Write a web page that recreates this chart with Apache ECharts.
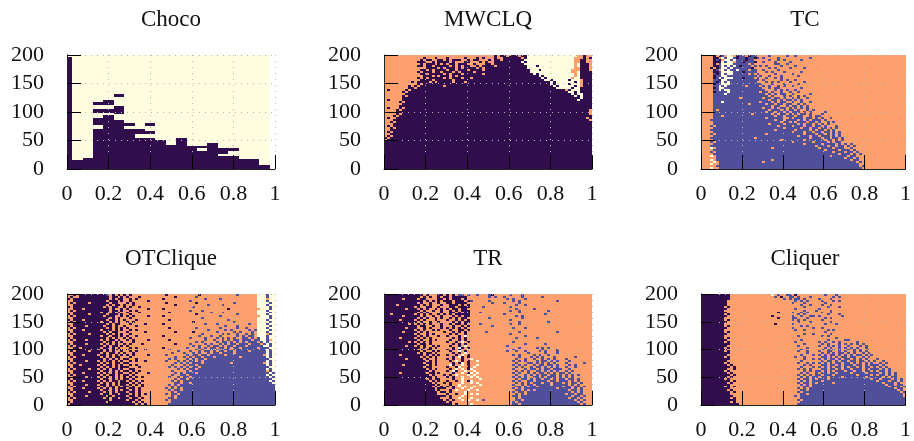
<!DOCTYPE html>
<html><head><meta charset="utf-8">
<style>html,body{margin:0;padding:0;background:#fff}#c{width:914px;height:441px}</style>
<script src="https://cdn.jsdelivr.net/npm/echarts@6/dist/echarts.min.js"></script>
</head><body><div id="c"></div>
<script>
const titles = ['Choco','MWCLQ','TC','OTClique','TR','Cliquer'];
const palette = {'#':'#320d4d','b':'#50509a','.':'#fea06e','-':'#fffde0'};
const xRange = [0,1], yRange = [0,200];

// Choco: [firstBin, lastBin, [dark y ranges]] with 40 bins of width 0.025; bin 39 is empty
const chocoBins = [
 [0,0,[[0,197]]],[1,2,[[0,15]]],[3,4,[[0,20]]],
 [5,6,[[0,71],[77,90],[98,105],[112,117]]],
 [7,8,[[0,95],[98,105],[112,121]]],
 [9,10,[[0,86],[96,111],[127,131]]],
 [11,12,[[0,71],[76,81]]],
 [13,14,[[0,55],[61,71]]],
 [15,16,[[0,55],[61,66],[76,81]]],
 [17,18,[[0,51]]],[19,20,[[0,42]]],[21,22,[[0,55]]],[23,24,[[0,41]]],
 [25,26,[[0,32],[36,40]]],[27,28,[[0,46]]],
 [29,30,[[0,22],[26,36]]],[31,32,[[0,22],[32,36]]],
 [33,36,[[0,17]]],[37,38,[[0,7]]]
];

// 70 columns, 57 rows, top row first, in groups of 10 columns.
// # dark, b blue, . orange, - cream; D, B, O, C are whole groups of one colour; missing groups are orange.
const mwclqRows = [
"O O O .......#.# #.###.##-- C -----..#..",
"O ...#...#.. .#.....#.. .#.#...#.. ######.#-- C ----...#.#",
"O ..#.##..## .#.###..#. ##...#.##. #######--- C ----..##..",
"O .###..#.## ##.#...##. ..#.#..### ######-#-- C ----..##..",
"O ..#.###.#. #.##.###.. #...##.### #######--- C ----.-###.",
"O .##.##.### ##.#.#.##. .#.####.## ########-- -#-------- ----.-###.",
"O ....####.# .###.#.### #.#.###### ########-- C ----..###.",
"O ..##.#.### #.##.###.# ###.###### #########- --#------- ---...###.",
"O .#.###.##. ###.#.#### .######### #########- C ---..-####",
"O ..##.##### .#.###.### ###.###### ########## -#-------- ----.-####",
"O ...###.#.# ##.#.##### ########## D ##-#------ ----.-####",
"O .#.#.##### .#.###.##. ########## D ###-#----- ---.--####",
"O ..####.### ###.###### D D ####--#--- --#---.###",
".........# .####.#.## ###.###.## D D ######-#-- ----#-.###",
".......... .#.####### ########## D D ######-#-- --#---.###",
"........#. #.######## .######### D D #######-#- ----#-.###",
"........## .######### D D D ########-- ---#--####",
".#.....#.# ########## D D D D #.#---####",
"......#.## ########## D D D D ##--#-####",
".......### D D D D D ###-#--###",
"......#.## D D D D D ####-#-###",
"......#### D D D D D ######-###",
".#....#### D D D D D #####-####",
".....#.### D D D D D D",
"......#### D D D D D D",
".....##### D D D D D D",
".#...#.### D D D D D D",
"....#.#### D D D D D #########.",
"....###### D D D D D #########.",
"....#.#### D D D D D #########.",
"...#.##### D D D D D D",
".#..###### D D D D D ########.#",
"...####### D D D D D #########.",
"..#.###### D D D D D D",
"...####### D D D D D D",
".#.####### D D D D D D",
"..#.###### D D D D D D",
"..######## D D D D D D",
".#.####### D D D D D D",
"..######## D D D D D D",
".#.####### D D D D D D",
"#.######## D D D D D D",
".######### D D D D D D",
"D D D D D D D","D D D D D D D","D D D D D D D","D D D D D D D","D D D D D D D",
"D D D D D D D","D D D D D D D","D D D D D D D","D D D D D D D","D D D D D D D",
"D D D D D D D","D D D D D D D","D D D D D D D","D D D D D D D"
];
const tcRows = [
"....#.#b.- -.#bb.#bb. ...b.....b ..b.......",
"....##.-b- -b#bb#bb#b .b....b... .......b..",
"....#b#.-- b-bbb#bb.. ...b..b.b. ....b.....",
"....###-b- -.bb#bbb#. .b...b.... b.........",
"....#.b--- -bbbbb.b.. .....bb..b ..........",
"....##b-b- b-b#bbb.b. b.b....b.. ..b.......",
"...#.#b--b -bbbbbb#.. ...b.b.... b....b....",
"....#b.-b- bb-bbb.bb. .b....b... ..........",
"....##b--- -bbb#bbbb. ..b.b...b. ....b.....",
"....b#b-b- -bbbbb.b.b .....b.... .b........",
"....#bb--b bbbbbbbbb. b..b...b.. ...b......",
"....#b-b-- -bbb#bbb.b ..b..b.b.. ..........",
"....bb#--b bbbbbbbbbb .b.....b.b ..b.......",
"....b#b-b- bbbbbbbbb. ..b.b.b... b....b....",
"....#bb--- bbbbbbbbbb b...b...b. ...b......",
"....bb-b-b bbbbb.bbbb .b.b..b.b. .b........",
"....#b--bb bbbbbbbbbb b..b.bb... ....b.....",
"....bb-b-- bbbbbbbbbb bb...b.b.b ..b.......",
"....#bbbb- bbbbbbbbbb .bb.b..b.. b..b......",
"....bbbb-b bbbbbbbbbb bb.b.b.bb. .b.....b..",
"....bbbbbb bbbbbbbbbb bbb.b...b. b..b.b....",
"....bbbbbb bbb.bbbbbb b.bb.bb.b. .b.b..b...",
"....bbbbbb bbbbbbbbbb bbb.bb.b.b b.b.b.....",
"....bbb-bb bbbbbbbbbb .bbb.b.bb. .b..b..b..",
"....bbbbbb bbbbbb.bbb bb.bb.bb.b b..b.b....",
"....bbbbbb bbbbbbbbbb bbbb.bb..b .bb.b.b...",
"....bbbbbb bbbbbbbbbb b.bb.b.bb. b.b.b.b...",
"....b.bbbb bbbbbbbbbb bbb.bbb.b. bb.b..b.b.",
"....bbbbbb bbbbbbbbbb bb.bb.bb.b .bbb.b.b.. ..b.......",
"....bbbbbb bbbbbbb.bb bbbb.b.bb. b.b.bb.b.. .b........",
"....bbb.bb bbbbbbbbbb bbbbb.bb.b bb.bb..b.b b.........",
"....bbbbbb bbbbbbbbbb bb.bbbbb.. b.bbb.bb.b .b..b.....",
"...bbbbbbb bbbbbbbbbb bbbbb.bb.b bbb.b.b.bb b.b.......",
"....bbbbbb bbbbbbbbbb bbbbbbb.bb .b.bbb.bb. b..b.b....",
"....bbbbbb bbbbbbbbbb bbb.bbbb.b bbb.b.bb.b .b.b......",
"...b.bbbbb bbbbbbbbbb bbbbbb.bbb b.bbb.bb.b b.b...b...",
"....bbbbbb bbbbbbbbbb bbbbbbbb.b bbbb.bb.bb .bb.b.b...",
"...bbbbbbb bbbbbbbbbb bbbbb.bbbb bb.bbbb.b. bb.b.b....",
"....bbbbbb bbbbbbbbbb bbbbbbbbbb b.bbb.bb.b b.bb.b.b..",
"...b.bbbbb bbbbbbbbbb bb.bbbbbbb bbbbb.bbb. bb.b.b.b..",
"....bbbbbb bbbbbbbbbb bbbbbbbbbb bbb.bbb.bb .bbb.b.b..",
"...bbbbbbb bbbbbbbb.b bbbbbbbbbb bbbbbbb.bb b.bb.bb.b.",
"....bbbbbb bbbbbbbbbb bbbbbbb.bb bbbbb.bbbb bb.bb.b.b.",
"...b.bbbbb bbbbbbbbbb bbbbbbbbbb b.bbbbbb.b bbb.b.bb..",
"....bbbbbb bbbbbbbbbb bbbbbbbbbb bbbbb.bbbb b.bbbb.b.b .b........",
"...bbbbbbb bbbbbbbbbb bbbbbbbbbb bbbbbbbbb. bbb.bb.bb. b.b.......",
"...-.bbbbb bbbbbbbbbb bbbb.bbbbb bbbbbbbbbb .bbbb.bbb. .b........",
"....bbbbbb bbbbbbbbbb bbbbbbbbbb bbbbbbbbbb bb.bbbb.bb b.b.......",
"...b.bbbbb bbbbbbbbbb bbbbbbbbbb bbbbbbbbbb bbbbb.bbb. bb.b......",
"....bbbbbb bbbbbbbbbb bbbbbbbbbb bbbbbbbbbb bbbbbbb.bb b.b.b.....",
"...-.bbbbb bbbbbbbbbb bbbbbbbbbb bbbbbbbbbb bbbb.bbbbb .bb.......",
".....bbbbb bbbbbbbbbb bbbbbbbbbb bbbbbbbbbb bbbbbbbbb. bb.b......",
"...-.bbbbb bbbbbbbbbb bbbb.bbbbb bbbbbbbbbb bbbbbbbbbb b.bb......",
"....-.bbbb bbbbbbbbbb b.bbbbbbbb bbbbbbbbbb bbbbbbbbbb bbb.b.....",
"...-..bbbb bbbbbbbbbb bbbbbbbbbb bbbbbbbbbb bbbbbbbbbb bbbb......",
".....bbbbb bbbbbbbbbb bbbbbbbbbb bbbbbbbbbb bbbbbbbbbb bbbb.b....",
"...-..bbbb bbbbbbbbbb bbbbbbbbbb bbbbbbbbbb bbbbbbbbbb bbbbb....."
];
const otcliqueRows = [
"..#.###### ###b.#.#.# .#........ ...#...... ....#..... .......b.. ....---b--",
".#..###### ####.##.#. #...#..... ......#... ...b...... .......... ....---b--",
"#.######## ####.#.##. .#.#...... ..#....... ......b... .b........ ....---.--",
"..######## ###.###.#. .#.....#.. .......... .b........ .......... ....---b--",
".#.####.## ####.##... #.#....... ...#...... ...#...... ......b... ....----b-",
"..######## ###.#.##.# ..#....... ......#... .......b.. ..b....... ....---b--",
"#.######## ##.#.##..# .#..#..... .......... ..b....... .......... ....----b-",
"..###.#### ####.#..#. #......#.. ..#....... .......... ....#..... .....---b-",
".#.####### ####.##.#. .#.#...... ......... .b...b.... .......... ....---b--",
"..######## #.##.#.#.. #...#..... ....#..... ........b. ..b....... ....----b-",
"#.#####.## ###.###.#. .#........ .......... ...#...... .......b.. ....---b--",
".#.####### ##.###..#. #.#....#.. ..#....... .......... .b........ .....---b-",
"..######## ####.#.#.. .#........ .......... .....b.... .......... ....----b-",
"#.###.#### ###.##.#.# ...#...... ....#..... .......... ....b..... ....---b--",
".#.####### #.##.#.#.. #.#....... .......... ..#....... ......b... ....----b-",
"..######## ###.#.##.. .#....#... ..#....... ......b... b......... .b..---b--",
"#.####.### ##.##.#..# ...#...... .......... .......... ...b...b.. ....----b-",
".#.####### ###.#.#.#. #......... ....#..... ...b...... .b.....b.. b...---b--",
"..###.#### #.###.#.#. .#.#...... .......... .......b.. ...b.b.... .b.b----b-",
"#.######## ##.#.##... #.....#... ......#... ..#....... b.....b.b. ..b.---b--",
".#.####.## ###.#.#.#. .#........ .......... .....b.... ..b.b..b.. b.b.---.b-",
"..######## #.##.##.#. #..#...... ..#....... ....b...b. .b.....b.b .bb.---b--",
"#.######## ###.#.#..# .#........ .......... .b....b... b.b.b.b..b b.b.b--b--",
".#.###.### #.#.##.#.. #.#....#.. ....#..... ......b..b ..b.b.bb.b bb.bb--b.-",
"..######## ##.##.#.#. ..#....... .......... ...b.b.... b.bb.b.b.b .bbb.b-b--",
"#.####.### #.#.#.#..# .#...#.... ......#... .b....b.b. .b.b.bb.bb b.bbb.b-b-",
".#.####### ##.#.##.#. #......... .......... ..b.b..b.b b.b.bb.bbb .bbbbb--b-",
"..##.##### #.##.#.#.. .#.#...... ..#....... b...b.b.bb .bb.b.bb.b bbbb.bbb--",
"#.######## .#.#.##.#. #.....#... ....b..... ...b.b..b. b.bbb.bbbb bbbbbbb-b-",
".#.####.## ##.#.#..#. .#.#...... .......b.. .b..b.bb.b .bb.bb.bbb b.bbbbb-b-",
"..######## #.#.##.#.# ..#....... .....b...b ..b.b..b.b b.bbbb.bbb bbbbbbb-b-",
"#.###.#### .##.#.#.#. #.#....#.. ...b...... b.bb.bb.bb bbb.bbbbbb bbbbbb.-b-",
".#.####### #.#.#.##.. .#........ ......b..b .b.bb.bbb. bbbbbbbb.b bbbbbbb-b-",
"..######## ##.#.#.#.# #..#...... ....b.b... b.b.bb.bbb bbbbbbbbbb bbbbbbbb--",
"#.####.### .#.##.#.#. .#.#..#... ...b...b.b .bb.b.bbbb bbbbbbbbbb bbbbbbb-b-",
".#.####### #.#.#.##.# #......... ......b.b. b.bbb.bbbb bbbbb.bbbb bbbbbb.-b-",
"..##.##### .#.##.#.#. .#.#...... .....b...b .bb.bbbbbb bbbbbbbbbb bbbbbbb-b-",
"#.######## #.#.#.#.## #...#..... ....b.b.b. b.bb.bbbbb bbbbbbbbbb bbbbbbbb--",
".#.####.## .#.#.##.#. .##....... .......b.b .bb.bbbbbb bbbbbbbbbb bbbbbbb-b-",
"..######## #.##.#.#.# #.#.#..... .....b.... b.bbbbbbbb bbbbbbbbbb bbbbbbb.b-",
"#.###.#### .#.#.#.##. .#.#...#.. ......b.b. bbb.bbbbbb bbbbbbbbbb bbbbbbbb-b",
".#.####### #.#.##.#.# #.#....... .....b..bb .bbbbbbbbb bbbbbbbbbb bbbbbbb-b-",
"..####.### .#.#.#.#.# .#.#.#.... ....b..b.b b.bbbbbbbb bbbbbbbbbb bbbbbbbb-b",
"#.######## #.##.#.#.# #.#....... ......b.bb .bbbbbbbbb bbbbbbbbbb bbbbbbbbb-",
".#.##.#### .#.#.##.## .#.#.#.... .....b.b.b bbbbbbbbbb bbbbbbbbbb bbbbbbbb-b",
"..######## #.#.#.#.## #.#.#..... ......bb.b b.bbbbbbbb bbbbbbbbbb bbbbbbbbb-",
"#.####.### .##.#.#.## .#.#.#.... ....b.b.bb bbbbbbbbbb bbbbbbbbbb bbbbbbbbbb",
".#.####### #.#.##.#.# #.#..#.... .....b.bbb bbbbbbbbbb bbbbbbbbbb bbbbbbbbbb",
"..###.#### .#.#.#.### .##.#..... ...b.b.b.b bbbbbbbbbb bbbbbbbbbb bbbbbbbbbb",
"#.######## #.##.#.#.# #.#.#..... ....b.bb.b bbbbbbbbbb bbbbbbbbbb bbbbbbbbbb",
".#.####.## ##.#.#.### .##.#..... .....b.bbb bbbbbbbbbb bbbbbbbbbb bbbbbbbbbb",
"..######## #.##.##.## #.#.#.#... ...b.bb.bb bbbbbbbbbb bbbbbbbbbb bbbbbbbbbb",
"#.####.### ###.#.#### .##.#..... .....b.bbb bbbbbbbbbb bbbbbbbbbb bbbbbbbbbb",
".#.####### ##.#.##.## #.##.#.... ....bb.bbb bbbbbbbbbb bbbbbbbbbb bbbbbbbbbb",
"..######## ####.##### .##.#..... ...b.bbbbb bbbbbbbbbb bbbbbbbbbb bbbbbbbbbb",
"#.######## ###.###### ##.#.#.... .....bbbbb bbbbbbbbbb bbbbbbbbbb bbbbbbbbbb",
".######### ########## ###.#.#... ....bbbbbb bbbbbbbbbb bbbbbbbbbb bbbbbbbbbb"
];
const trRows = [
"D ###.#...## .#.#.bb.b. .b...b#... ..b...b...",
"D ##.#.#..#. ##.#####.. .....b.b.. b.....b... ...b......",
"######.### #.##....## .#.###.#.. .......... .b.b...b..",
"D ###.#.#.#. ###.###.#b .....b.... ...b.b.... ........b.",
"D #.#..#..#. .##.####.. ......b... b....b....",
"####.##### ##.#.#...# ..###.#.#. .......... ....b..b..",
"D .#..##..#. ..##.####. ...b...... ..b.......",
"#######.## #.#.#..#.# .#.##.##.. .......... ....b..... b.........",
"D ##.#..#..# ..#.#.###. .......... ..b..b.... .....b....",
"D #.#.#....# ..##.#.##. ..b....... .....b....",
"##.####### .#.#.#..#. #.#.#####. .......... b......... ....b.....",
"######.### ##.#..#..# ...#.#.##. .......... ....b.b...",
"D #.#.#..#.# ..#.#.##.. .....b.... ......b...",
"#####.#### .#.#...#.. .#..#.#.#. .......... ..b.......",
"D #.#..#..#. ...#.#.##. .......... .....b.... .....b....",
"########.# .#.#.#...# ..#.##.#.. ..b....... ..b..b....",
"D #.##..#..# ...#..#.#. ......b... ..........",
"#######.## #..#.#...# .#.#.#.#.. .......... ...b...b..",
"D .#.#..#.#. ..#..##.#. .......... ..........",
"######.### #.#.#..... #..#.#.#.. ....b..... .....b.... ........b.",
"D .#..#.#... ..#.#..#.. .......... ..b.......",
"D #.#.#...#. .#...#.-.. .......... .......b..",
"#####.#### .#.#.#.... ...#.#.#.. .......... ....b..... .b........",
"D #.#..#.#.. ..#..#.#.. .......... ..........",
"########.# .#.#.#.... .#..#.-.#. .......... ...b......",
"D #.##.#.... ...#.#.#.. .......... .......b.. ....b.....",
"#######.## .#.#..#.#. ..#..#.-.. .......... .b........",
"D ##.#.#.#.. ...#.-#.#. .......... .....b.... .b.b.b....",
"###.###### #.#.##.... .#.#.#..-. .......... ...b...... ...b....b.",
"D ##.#..#.#. ..#..-.#.. .......... .b..b..b.. ..b.b...b.",
"D #.#.##.#.. ...#.#.-.. .......... ........b. ....b...b.",
"#####.#### ###.#.#.#. .#..#.-.#. .......... ...b.b.... b.b..b....",
"D ##.#.#.#.. ...#.-#.#. .......... .....b...b .b.b...b.. ....b.....",
"#######.## ###.#..#.. .#.#..#..- .......... ....b..b.. b..b.b.b.. .b........",
"D ####.#.#.. ..#.-.#.#. .-........ ...b.b.b.. .b.bb.b.b. ..b.......",
"D ###.##.#.. ...#.#-.#. .......... ....b...bb .b.b.b.b.. .b.....b..",
"######.### ####.#.#.. ..-#..-.#. .-........ ...b.b.b.. b.bb.bb.b. ..b.b.....",
"D ###.##.... .#..#-..#. -......... ....b.b..b .bb.b.b.b. .b..b.....",
"D ####.#.#.. ..#.-.-.#- .......... ...b...b.b b.b.bb.bbb ..b.......",
"D #####.#... .#.-#..-.. -......... ....b.b.b. .bb.b.b.b. .b.b......",
"#####.#### ####.##.#. ...#..-.#- .-........ ...b.b..b. b.bb.b.b.b b.b.......",
"D #####.#... #.#.-...-. -......... ....b..b.b .b.bb.bb.b .b.b.b....",
"D ######.#.. .#.#..-..- .-........ ...b.b.b.. bb.b.bbb.b .b.b......",
"D ####.#.##. ...#..-... ..-....... ....b.bb.b .bb.bb.b.b b.bb.b....",
"D #####.#.#. .#..#.-.#- .......... ...b.b..bb .bbbb.bb.b bb.b.b....",
"D ######.#.. #.#...-..- .-........ ....b.b.b. bbb.bb.bbb .b.bb.b...",
"D #######.#. ..#..-.... ..-....... ...b..b.bb .bbbbb.bbb bb.b.b....",
"D ######.#.# .#.#.-.-.. -......... ....bb.b.b b.bbbbbbbb .bb.bb.b..",
"D #######.## #..#..-..- .......... ...b.b.bbb bbbbbbbb.b bbb.b.b...",
"D #######.#. ..#.-...-. .-........ ....bb.b.b .bbbbbbbbb bb.bb.b...",
"D ########.# #.#....-.. .......... ...b.bb.bb bbbbbbbbbb bbb.b.b...",
"D ########.. .#..#..-.- .-........ ....b.b.bb bbbbbbbbbb b.bb.bb...",
"D ########## #.#...-... .......... ...bb.bbbb bbbbbbbbbb bbb.bb.b..",
"D #########. ..#..-...- .......... ....b.bbbb bbbbbbbbbb bb.bb.b...",
"D ########## .#.#..-.-. .-.b...... ....bb.bbb bbbbbbbbbb bbbb.b.b..",
"D ########## #.#....... .......... ...b.bbbbb bbbbbbbbbb bbbbb.b...",
"D ########## ###.#....- .......... ...bb.bbbb bbbbbbbbbb bbbbbb.b.."
];
const cliquerRows = [
"D O ....-.b..b b.#....... ..b...b...",
"D O .....b.#.. bb.b...b.. .....b.b..",
"D O ........b. b.bb.b.... b...b.....",
"#########. O .......... ..b.b.b... .b...b.b..",
"#########. O .......... .b...b.... ..b.......",
"#########. O .......... ....b..b.. .b..b.....",
"########.# O .......... .....b.... ...b...b..",
"#########. O .......... ..b....... b.........",
"########.. O .......... .....b...b ....b.....",
"#########. O ......#... .b..b.b... .b..b.....",
"########.# O .......... ...b.b.... ...b...b..",
"#########. O ....#..... .b..b..bb. b.......b.",
"########.. O ......#... .bb...b... ..b.b.....",
"########.# O .......... .b.b.b.... .b........",
"#########. O .......... ...b...b.. ....b.....",
"########.. O .....#.... .b........ ..b...b...",
"########.# O .......... ....b.b... ..........",
"#########. O .......... .b......b. .b........",
"########.. O .......... ..b..b.... ...b.b....",
"########.# O .......... .......... ..b.......",
"#########. O .......... .....b..b. ....b.....",
"########.. O .......... ...b...... .b.b......",
"########.# O .......... .......... ......b...",
"#########. O .......... ....b..... ...b.....b b.........",
"########.# O .......... ..b....... b.b..b.b.. ...b......",
"########## O .......... .....b.... .b.b...b.b .b.b.b....",
"#########. O .......... ...b...... b..b.b.b.. b...b.b...",
"########.# O .......... ......b... ..b.b..b.b .b.b..b...",
"#########. O .......... ....b..... .b.b.b.b.. b.b.b..b..",
"########.# O .......... ...b..b... b..bb..b.b ..b.b.b...",
"########## O .......... ......b... .b.b.b.bb. b.b..b.b..",
"#########. O .......... ....b...b. b.b.bb.b.b .b.bb.b.b.",
"########.# O .......... ..b..b.... .bb.b.b.bb .bb..b.b..",
"########## O .......... .....b..b. b.b.bb.b.b b.b.b.b... b.........",
"#########. O .......... ....b..... .b.bb.b.bb .bb.bb.b.b ..b.......",
"########.# O .......... ...b..b.b. b.b.b.bb.b b.b.b.b.b. .b.b......",
"#########. #......... .......... .....b.b.. .bb.bb.b.b bb.bb.b.bb b.b.......",
"########## .#........ .......... ....b...b. b.b.b.bb.b .bb.b.bb.b .b.b......",
"#########. .#........ .......... ...b.b.b.. .bb.bb.b.b b.bbb.b.bb b.b.b.....",
"########.# .......... .......... .....b.b.b b.b.b.bbb. bb.bb.bb.b .bb.b.....",
"#########. #......... .......... ....b.b..b .bb.bb.bbb b.bbbb.bbb b.b.b.b...",
"########## .#........ .......... ...b.b.b.b b.bbb.bbbb bbb.bbbb.b .bb.b.b...",
"#########. #......... .......... ....b.b.bb .bb.bbbb.b bbbbbb.bbb bb.b.bb...",
"########.# .......... .......... ...b.bb.b. bbb.bbbbbb bbbbbbbb.b b.bbb.b.b.",
"########## .#........ .......... ....b.b.bb b.bbbbbbbb bbbbbbbbbb .bbb.bb.b.",
"#########. #......... .......... ...b.bb.b. bbbbb.bbbb bbbbbbbbbb bb.bbb.b..",
"########## .......... .......... ....b.b.bb bbbbbbbbbb bbbbbbbbbb bbb.bb.bb.",
"########.# .#........ .......... .....bb.bb bbbbbbbbbb bbbbbbbbbb bbbb.bbb.b",
"########## .......... .......... ...b.b.bbb bbbbbbbbbb bbbbbbbbbb bbbbbb.bb.",
"#########. #......... .......... ....bb.bbb bbbbbbbbbb bbbbbbbbbb bbbbbbb.b.",
"########## .#........ .......... ...b.bbbbb bbbbbbbbbb bbbbbbbbbb bbbbbbbb.b",
"########## .......... .......... ....bb.bbb bbbbbbbbbb bbbbbbbbbb bbbbbbbbb.",
"########## #......... .......... ..b.bbbbbb bbbbbbbbbb bbbbbbbbbb bbbbbbbbb.",
"########## .#........ .......... ....bbbbbb bbbbbbbbbb bbbbbbbbbb bbbbbbbbbb",
"########## ##........ .......... ...b.bbbbb bbbbbbbbbb bbbbbbbbbb bbbbbbbbbb",
"########## .#........ .......... ....bbbbbb bbbbbbbbbb bbbbbbbbbb bbbbbbbbbb",
"########## ###....... .......... ...bbbbbbb bbbbbbbbbb bbbbbbbbbb bbbbbbbbbb"
];

function chocoRuns(){
  const out = [[0,39*0.025,0,200,'-']];
  chocoBins.forEach(([a,b,rs])=>rs.forEach(([y0,y1])=>out.push([a*0.025,(b+1)*0.025,y0,y1,'#'])));
  return out;
}
const whole = {D:'#',B:'b',O:'.',C:'-'};
function gridRuns(rows){
  const n = rows.length, out = [];
  rows.forEach((row,r)=>{
    const g = row.trim().split(/\s+/).map(s=>whole[s]?whole[s].repeat(10):s.padEnd(10,'.').slice(0,10)).join('').padEnd(70,'.');
    const y1 = 200*(1-r/n), y0 = 200*(1-(r+1)/n);
    let s = 0;
    for(let i=1;i<=70;i++){
      if(i===70 || g[i]!==g[s]){ out.push([s/70,i/70,y0,y1,g[s]]); s=i; }
    }
  });
  return out;
}
const panelData = [chocoRuns(),gridRuns(mwclqRows),gridRuns(tcRows),gridRuns(otcliqueRows),gridRuns(trRows),gridRuns(cliquerRows)];

const lefts=[67,384,701], tops=[55,294], W=208, H=114;
const font='"Liberation Serif",serif';
const chart=echarts.init(document.getElementById('c'),null,{renderer:'canvas'});
const grid=[],xAxis=[],yAxis=[],series=[],title=[];
titles.forEach((t,i)=>{
  const l=lefts[i%3], tp=tops[i<3?0:1];
  grid.push({left:l,top:tp,width:W,height:H,containLabel:false});
  title.push({text:t,left:l+W/2,top:tp-35,textAlign:'center',textVerticalAlign:'middle',
    textStyle:{fontFamily:font,fontSize:23,fontWeight:'normal',color:'#111'},padding:0});
  const gridLine={show:true,lineStyle:{color:'#b9b9b9',width:1,type:[1,5]}};
  xAxis.push({type:'value',gridIndex:i,min:xRange[0],max:xRange[1],interval:0.2,z:10,
    axisLine:{show:true,onZero:false,lineStyle:{color:'#222',width:1}},
    axisTick:{show:true,inside:true,length:14,lineStyle:{color:'#000',width:1}},
    axisLabel:{fontFamily:font,fontSize:22,color:'#111',margin:14,hideOverlap:false},
    splitLine:gridLine});
  yAxis.push({type:'value',gridIndex:i,min:yRange[0],max:yRange[1],interval:50,z:10,
    axisLine:{show:true,onZero:false,lineStyle:{color:'#222',width:1}},
    axisTick:{show:true,inside:true,length:14,lineStyle:{color:'#000',width:1}},
    axisLabel:{fontFamily:font,fontSize:22,color:'#111',margin:23,hideOverlap:false,padding:[2,0,0,0]},
    splitLine:gridLine});
  series.push({type:'custom',xAxisIndex:i,yAxisIndex:i,z:2,silent:true,animation:false,clip:true,
    encode:{x:[0,1],y:[2,3]},data:panelData[i],
    renderItem:(p,api)=>{
      const a=api.coord([api.value(0),api.value(2)]), b=api.coord([api.value(1),api.value(3)]);
      const x=Math.round(a[0]),x2=Math.round(b[0]),y=Math.round(b[1]),y2=Math.round(a[1]);
      return {type:'rect',shape:{x,y,width:x2-x,height:y2-y},style:{fill:palette[panelData[i][p.dataIndex][4]]}};
    }});
});
chart.setOption({animation:false,backgroundColor:'#fff',title,grid,xAxis,yAxis,series});
</script></body></html>
